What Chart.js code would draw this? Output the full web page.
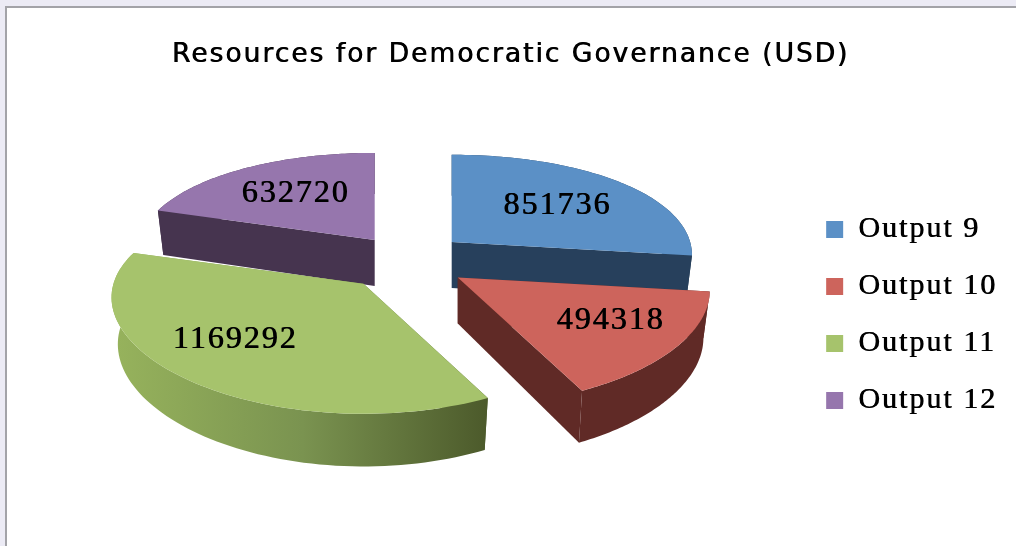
<!DOCTYPE html>
<html>
<head>
<meta charset="utf-8">
<title>Resources for Democratic Governance (USD)</title>
<style>
  html, body { margin: 0; padding: 0; background: #ecebf5; overflow: hidden; }
  #frame { position: absolute; left: 5px; top: 6px; width: 1020px; height: 560px; background: #fff; border: 2px solid #a3a3a8; }
  #myChart { position: absolute; left: 0; top: 0; filter: blur(0.5px); }
</style>
</head>
<body>
<div id="frame"></div>
<canvas id="myChart" width="1016" height="546"></canvas>
<script src="https://cdn.jsdelivr.net/npm/chart.js@4"></script>
<script>
const categories = ['Output 9', 'Output 10', 'Output 11', 'Output 12'];
const values = [851736, 494318, 1169292, 632720];
const explode = [60, 63, 66, 54];
const colors = ['#5b90c6', '#cd645c', '#a6c36c', '#9676ad'];
const sideColors = ['#27405c', '#602a26', '#7a9350', '#46344f'];

// back slices first, the front ones cover them
const drawOrder = [3, 0, 2, 1];
// excel moved the labels by hand
const labelNudge = [[8, 0], [32, 6], [-30, 6], [-4, -3]];

const squash = 0.41;
const persp = 0.176;
const offsetSquash = 0.467;

function project(u, v, R) {
    const w = 1 / (1 - persp * v / R);
    return { x: u * (1 + (w - 1) * 0.7), y: squash * v * w, w: w };
}

function apexOf(el) {
    const mid = (el.startAngle + el.endAngle) / 2;
    const off = el.options.offset;
    return { x: el.x + Math.cos(mid) * off, y: el.y + Math.sin(mid) * off * offsetSquash };
}

function topPoint(el, angle, r) {
    const A = apexOf(el);
    const p = project(Math.cos(angle) * r, Math.sin(angle) * r, el.outerRadius);
    // slices pushed back look narrower, slices pushed forward look deeper
    const s = Math.sin((el.startAngle + el.endAngle) / 2);
    const sx = s < 0 ? 1 + 0.07 * s : 1;
    const sy = s > 0 ? 1 + 0.06 * s : 1;
    return { x: A.x + p.x * sx, y: A.y + p.y * sy, w: p.w };
}

function bottomPoint(el, angle, r) {
    const A = apexOf(el);
    const p = topPoint(el, angle, r);
    const depth = 46 * Math.pow(p.w, 0.7);
    return { x: A.x + (p.x - A.x) * 0.975, y: p.y + depth };
}

function fillPath(ctx, pts, style) {
    ctx.beginPath();
    pts.forEach((p, i) => i ? ctx.lineTo(p.x, p.y) : ctx.moveTo(p.x, p.y));
    ctx.closePath();
    ctx.fillStyle = style;
    ctx.fill();
}

function arcAngles(el) {
    const list = [];
    for (let i = 0; i <= 80; i++) {
        list.push(el.startAngle + (el.endAngle - el.startAngle) * i / 80);
    }
    return list;
}

const pie3d = {
    id: 'pie3d',
    beforeLayout(chart) {
        chart.ctx.letterSpacing = '2px';
    },
    afterLayout(chart) {
        // legend sits lower than chart.js would centre it
        chart.legend.top += 95;
        chart.legend.bottom += 95;
    },
    beforeDraw(chart) {
        chart.ctx.letterSpacing = '2px';
    },
    beforeDatasetsDraw(chart) {
        const ctx = chart.ctx;
        const arcs = chart.getDatasetMeta(0).data;
        drawOrder.forEach(i => {
            const el = arcs[i];
            const R = el.outerRadius;
            const angles = arcAngles(el);
            let side = sideColors[i];
            if (i === 2) {
                // only the big green slice has a shaded rim
                const g = ctx.createLinearGradient(118, 0, 487, 0);
                g.addColorStop(0, '#96b25c');
                g.addColorStop(0.5, '#7a9350');
                g.addColorStop(1, '#4c5a2b');
                side = g;
            }
            const rim = angles.map(a => topPoint(el, a, R))
                .concat(angles.slice().reverse().map(a => bottomPoint(el, a, R)));
            fillPath(ctx, rim, side);
            [el.startAngle, el.endAngle].forEach(a => {
                fillPath(ctx, [topPoint(el, a, 0), topPoint(el, a, R), bottomPoint(el, a, R), bottomPoint(el, a, 0)], side);
            });
            const face = [topPoint(el, el.startAngle, 0)].concat(angles.map(a => topPoint(el, a, R)));
            fillPath(ctx, face, colors[i]);
        });
        ctx.save();
        ctx.font = '32px "Liberation Serif"';
        ctx.fillStyle = '#000';
        ctx.textAlign = 'center';
        ctx.textBaseline = 'middle';
        arcs.forEach((el, i) => {
            const mid = (el.startAngle + el.endAngle) / 2;
            const p = topPoint(el, mid, el.outerRadius * 0.57);
            ctx.fillText(String(values[i]), p.x + labelNudge[i][0], p.y + labelNudge[i][1]);
        });
        ctx.restore();
        return false;
    }
};

const ctx = document.getElementById('myChart').getContext('2d');

// the text in the picture is heavier than the regular fonts, so every text is drawn twice
const plainFillText = ctx.fillText.bind(ctx);
ctx.fillText = function(text, x, y, maxWidth) {
    if (maxWidth === undefined) {
        plainFillText(text, x, y);
        plainFillText(text, x + 0.7, y);
    } else {
        plainFillText(text, x, y, maxWidth);
        plainFillText(text, x + 0.7, y, maxWidth);
    }
};

new Chart(ctx, {
    type: 'pie',
    data: {
        labels: categories,
        datasets: [{
            data: values,
            backgroundColor: colors,
            offset: explode,
            borderWidth: 0
        }]
    },
    options: {
        responsive: false,
        animation: false,
        devicePixelRatio: 1,
        radius: 250,
        layout: { padding: { left: 14, right: 9, top: 0, bottom: 106 } },
        plugins: {
            tooltip: { enabled: false },
            title: {
                display: true,
                text: 'Resources for Democratic Governance (USD)',
                color: '#000',
                font: { family: '"DejaVu Sans"', size: 26.5, weight: 'normal' },
                padding: { top: 39, bottom: 10 }
            },
            legend: {
                position: 'right',
                labels: {
                    boxWidth: 17,
                    boxHeight: 17,
                    padding: 27,
                    color: '#000',
                    font: { family: '"Liberation Serif"', size: 30 }
                }
            }
        }
    },
    plugins: [pie3d]
});
</script>
</body>
</html>
